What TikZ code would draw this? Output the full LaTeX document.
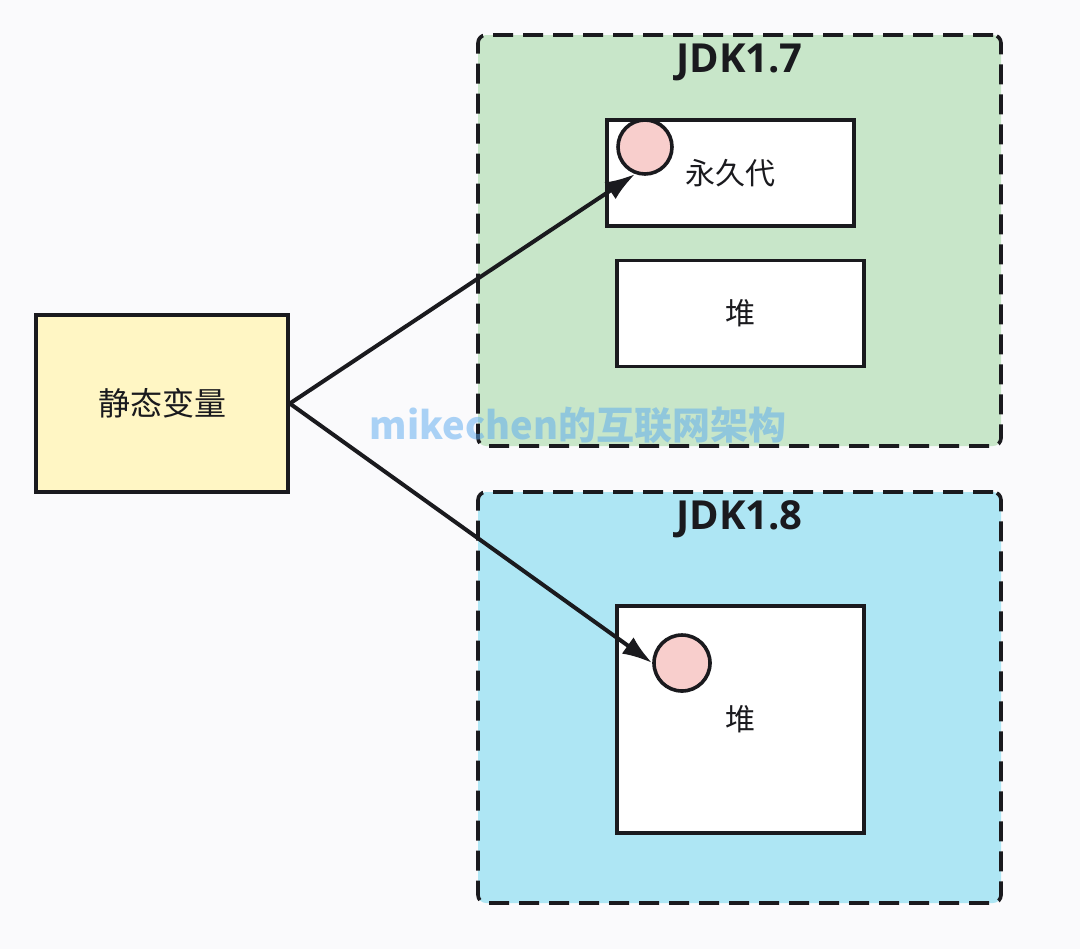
\documentclass[tikz,border=0pt]{standalone}
\usepackage{fontspec}
\setmainfont{Noto Sans CJK SC}
\newfontfamily\titlefont{Open Sans}
\newfontfamily\cjk{Noto Sans CJK SC}
\usepackage{tikz}
\usetikzlibrary{positioning,arrows.meta}

\definecolor{pagebg}{RGB}{250,250,252}
\definecolor{varfill}{RGB}{255,246,196}
\definecolor{oldfill}{RGB}{200,230,201}
\definecolor{newfill}{RGB}{174,230,244}
\definecolor{objfill}{RGB}{248,206,204}
\definecolor{inkcol}{RGB}{26,26,30}
\definecolor{markcol}{RGB}{90,169,240}

\tikzset{
	jdkgroup/.style={draw=inkcol, line width=1.8pt, dash pattern=on 10pt off 5pt, rounded corners=4pt, minimum width=261.5pt, minimum height=205.5pt},
	membox/.style={draw=inkcol, line width=1.8pt, fill=white, minimum width=123.5pt, font=\cjk\fontsize{15}{18}\selectfont, text=inkcol},
	objdot/.style={draw=inkcol, line width=1.8pt, fill=objfill, circle, inner sep=0pt},
	jdktitle/.style={font=\titlefont\bfseries\fontsize{20}{24}\selectfont, text=inkcol},
	ptr/.style={-{Latex[length=15pt,width=10pt]}, line width=2pt, draw=inkcol}
}

\begin{document}
\begin{tikzpicture}[x=0.5pt, y=-0.5pt]
		\path[use as bounding box, fill=pagebg] (0,0) rectangle (1080,949);
		% left side
		\node[draw=inkcol, line width=1.8pt, fill=varfill, minimum width=126pt, minimum height=88.5pt, font=\cjk\fontsize{16}{19}\selectfont, text=inkcol] (StaticVar) at (162,403.5) {静态变量} ;
		% JDK 1.7
		\node[jdkgroup, fill=oldfill] (Jdk7) at (739.5,240.5) {} ;
		\node[jdktitle] (Jdk7Title) at (739.5,62) {JDK1.7} ;
		\node[membox, minimum height=53pt] (PermGen) at (730.5,173) {永久代} ;
		\node[membox, minimum height=53pt, below=15.5pt of PermGen, xshift=5pt] (Heap7) {堆} ;
		\node[objdot, minimum size=27pt] (Obj7) at (645,147) {} ;
		% JDK 1.8
		\node[jdkgroup, fill=newfill] (Jdk8) at (739.5,697.5) {} ;
		\node[jdktitle] (Jdk8Title) at (739.5,519) {JDK1.8} ;
		\node[membox, minimum height=113.5pt] (Heap8) at (740.5,719.5) {堆} ;
		\node[objdot, minimum size=28pt] (Obj8) at (682,663) {} ;
		\draw[ptr] (StaticVar.east) -- (Obj7.250) ;
		\draw[ptr] (StaticVar.east) -- (Obj8.west) ;
		\node[font=\cjk\bfseries\fontsize{19}{23}\selectfont, text=markcol, opacity=0.5] (Mark) at (578,425) {mikechen的互联网架构} ;
	\end{tikzpicture}
\end{document}
